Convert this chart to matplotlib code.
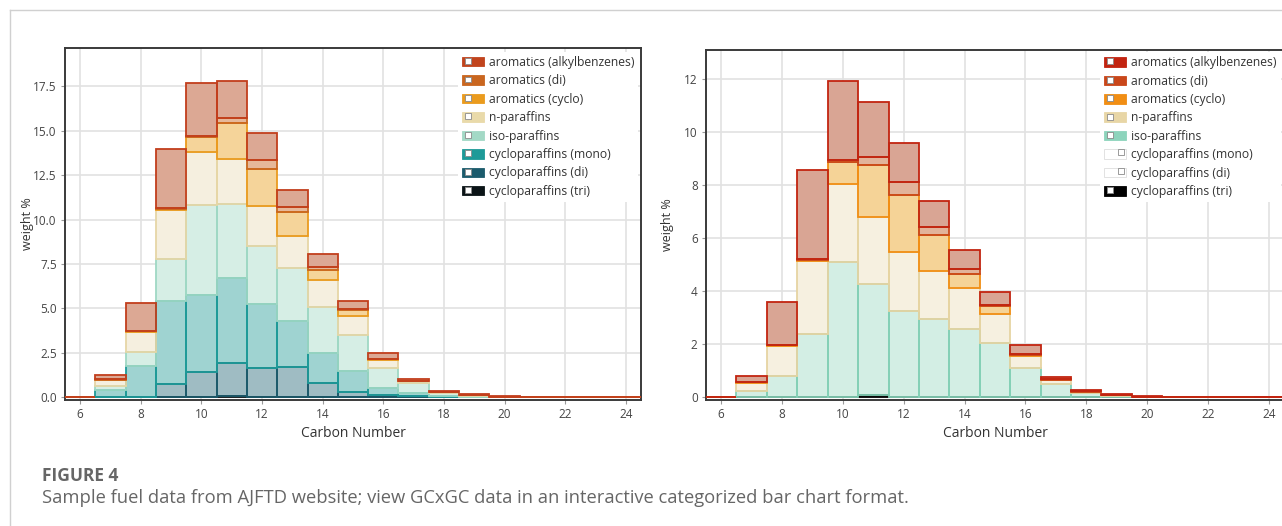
import matplotlib
matplotlib.use("Agg")
import matplotlib.pyplot as plt
import numpy as np
from matplotlib.patches import Rectangle
from matplotlib.lines import Line2D
from matplotlib.legend_handler import HandlerBase

plt.rcParams['font.family'] = ['Open Sans', 'DejaVu Sans']

# ---------------- data ----------------
carbon = list(range(6, 25))
# stacked from bottom to top
cyclo_tri  = [0, 0, 0, 0.02, 0.03, 0.08, 0.02, 0.01, 0, 0, 0, 0, 0, 0, 0, 0, 0, 0, 0]
cyclo_di   = [0, 0.02, 0.03, 0.73, 1.38, 1.83, 1.61, 1.68, 0.79, 0.32, 0.15, 0.05, 0.02, 0.01, 0, 0, 0, 0, 0]
cyclo_mono = [0, 0.40, 1.71, 4.67, 4.37, 4.81, 3.64, 2.61, 1.69, 1.14, 0.39, 0.21, 0.06, 0.03, 0, 0, 0, 0, 0]
iso_par    = [0, 0.24, 0.82, 2.38, 5.06, 4.18, 3.25, 2.96, 2.58, 2.06, 1.10, 0.52, 0.16, 0.06, 0.01, 0, 0, 0, 0]
n_par      = [0, 0.31, 1.13, 2.74, 2.95, 2.53, 2.23, 1.80, 1.53, 1.07, 0.47, 0.13, 0.05, 0.03, 0.01, 0, 0, 0, 0]
arom_cyclo = [0, 0.02, 0.02, 0.04, 0.84, 1.98, 2.12, 1.35, 0.56, 0.32, 0.03, 0.02, 0.01, 0, 0, 0, 0, 0, 0]
arom_di    = [0, 0.02, 0.02, 0.05, 0.09, 0.31, 0.50, 0.32, 0.16, 0.04, 0.03, 0.01, 0.01, 0, 0, 0, 0, 0, 0]
arom_alkyl = [0, 0.22, 1.60, 3.33, 2.95, 2.07, 1.49, 0.96, 0.74, 0.48, 0.33, 0.10, 0.05, 0.03, 0.03, 0.03, 0.03, 0.03, 0.03]

series_names = ["cycloparaffins (tri)", "cycloparaffins (di)", "cycloparaffins (mono)",
                "iso-paraffins", "n-paraffins", "aromatics (cyclo)", "aromatics (di)",
                "aromatics (alkylbenzenes)"]
series_vals = [cyclo_tri, cyclo_di, cyclo_mono, iso_par, n_par, arom_cyclo, arom_di, arom_alkyl]

edge_left = ["#0B1417", "#1C5B6C", "#1E9A98", "#9FD8C4", "#E6D6A6", "#EA9B1E", "#C9661F", "#C23E1C"]
fill_left = ["#8f9a9c", "#9fbcc3", "#9fd3d1", "#d6eee5", "#f5efdf", "#f5d49a", "#e6b89a", "#dca894"]
legend_left = ["#0B1417", "#1C5B6C", "#1E9A98", "#A3D9C6", "#E9DAAA", "#EA9B1E", "#C9661F", "#C1441D"]

edge_right = ["#000000", "#1C5B6C", "#1E9A98", "#84D0B6", "#E6D4A2", "#F18E14", "#C9471A", "#C22410"]
fill_right = ["#555555", "#9fbcc3", "#9fd3d1", "#d3eee4", "#f6f0e0", "#f5d397", "#e2b39a", "#d9a594"]
legend_right = ["#000000", "#1C5B6C", "#1E9A98", "#8DD4BC", "#E8D6A6", "#F18E14", "#C9471A", "#C22410"]
visible_right = [True, False, False, True, True, True, True, True]

left_yticks = [0, 2.5, 5, 7.5, 10, 12.5, 15, 17.5]
left_yticklabels = ["0.0", "2.5", "5.0", "7.5", "10.0", "12.5", "15.0", "17.5"]
right_yticks = [0, 2, 4, 6, 8, 10, 12]
xticks = [6, 8, 10, 12, 14, 16, 18, 20, 22, 24]

# ---------------- helpers ----------------
class CheckHandler(HandlerBase):
    def create_artists(self, legend, orig_handle, xdescent, ydescent, width, height, fontsize, trans):
        on = getattr(orig_handle, "_on", True)
        col = orig_handle.get_facecolor()
        x0, y0 = -xdescent, -ydescent
        s = height * 0.62
        if on:
            outer = Rectangle((x0, y0), width, height, facecolor=col, edgecolor=col,
                              lw=0.6, transform=trans)
            box = Rectangle((x0 + width * 0.13, y0 + (height - s) / 2 + 0.4), s, s,
                            facecolor="white", edgecolor="#8a8a8a", lw=0.6, transform=trans)
        else:
            outer = Rectangle((x0, y0), width, height, facecolor="white", edgecolor="#dddddd",
                              lw=0.6, transform=trans)
            box = Rectangle((x0 + width - s - width * 0.1, y0 + (height - s) / 2 + 1.2), s, s,
                            facecolor="white", edgecolor="#8a8a8a", lw=0.6, transform=trans)
        return [outer, box]


def draw_panel(ax, edges, fills, legcols, visible, ylim, yticks, yticklabels, leg_anchor):
    x = np.array(carbon, dtype=float)
    bottom = np.zeros(len(carbon))
    for name, vals, ec, fc, vis in zip(series_names, series_vals, edges, fills, visible):
        if not vis:
            continue
        v = np.array(vals, dtype=float)
        ax.bar(x, v, width=1.0, bottom=bottom, color=fc, edgecolor="none", zorder=2)
        ax.bar(x, v, width=1.0, bottom=bottom, facecolor="none", edgecolor=ec,
               linewidth=1.3, zorder=3)
        bottom = bottom + v
    ax.set_xlim(5.5, 24.5)
    ax.set_ylim(*ylim)
    ax.set_xticks(xticks)
    ax.set_yticks(yticks)
    ax.set_yticklabels(yticklabels)
    ax.grid(True, color="#e2e2e2", lw=1.2, zorder=0)
    ax.set_axisbelow(True)
    for sp in ax.spines.values():
        sp.set_color("#3a3a3a")
        sp.set_linewidth(1.4)
    ax.tick_params(axis="both", length=3, width=0.8, color="#999999",
                   labelsize=8.5, labelcolor="#444444", pad=3)
    ax.set_xlabel("Carbon Number", fontsize=10, color="#333333")
    ax.set_ylabel("weight %", fontsize=9, color="#333333")
    ax.xaxis.set_label_coords(0.5, -0.075)

    handles = []
    labels = []
    for name, c, vis in reversed(list(zip(series_names, legcols, visible))):
        h = Rectangle((0, 0), 1, 1, facecolor=c)
        h._on = vis
        handles.append(h)
        labels.append(name)
    leg = ax.legend(handles, labels, loc="upper left", bbox_to_anchor=leg_anchor,
                    handler_map={Rectangle: CheckHandler()}, fontsize=8.7,
                    frameon=True, facecolor="white", edgecolor="none", framealpha=1,
                    fancybox=False, handlelength=1.82, handleheight=0.83,
                    handletextpad=0.42, labelspacing=0.45, borderpad=0.33,
                    borderaxespad=0)
    for t in leg.get_texts():
        t.set_color("#333333")
    leg.set_zorder(10)
    return ax


W, H = 1282, 526
fig = plt.figure(figsize=(W / 100, H / 100), dpi=100)

axL = fig.add_axes([65 / W, (H - 400) / H, 576 / W, 352 / H])
draw_panel(axL, edge_left, fill_left, legend_left, [True] * 8, (-0.15, 19.65),
           left_yticks, left_yticklabels, (0.682, 0.989))
axL.yaxis.set_label_coords(-0.054, 0.5)

axR = fig.add_axes([706 / W, (H - 400) / H, 578 / W, 350 / H])
draw_panel(axR, edge_right, fill_right, legend_right, visible_right, (-0.1, 13.1),
           right_yticks, [str(v) for v in right_yticks], (0.682, 0.994))
axR.yaxis.set_label_coords(-0.055, 0.5)

# figure container border
fig.add_artist(Line2D([9.5 / W, 9.5 / W], [0, 1 - 10 / H], color="#d0d0d0", lw=1.0))
fig.add_artist(Line2D([9.5 / W, 1], [1 - 10 / H, 1 - 10 / H], color="#d0d0d0", lw=1.0))

# caption
fig.text(42 / W, 1 - 481 / H, "FIGURE 4", fontsize=12.5, fontweight="bold",
         color="#666666", va="baseline", ha="left")
fig.text(42 / W, 1 - 503 / H,
         "Sample fuel data from AJFTD website; view GCxGC data in an interactive categorized bar chart format.",
         fontsize=13.2, color="#666666", va="baseline", ha="left")

fig.savefig("out.png", dpi=100)
